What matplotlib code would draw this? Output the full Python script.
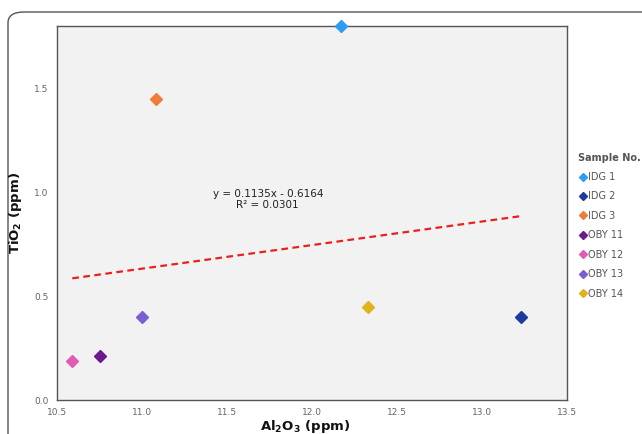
import matplotlib.pyplot as plt
import numpy as np
from matplotlib.patches import FancyBboxPatch

# === data ===
samples = ["IDG 1", "IDG 2", "IDG 3", "OBY 11", "OBY 12", "OBY 13", "OBY 14"]
al2o3 = [12.17, 13.23, 11.08, 10.75, 10.59, 11.00, 12.33]
tio2 = [1.80, 0.40, 1.45, 0.21, 0.19, 0.40, 0.45]
colors = ["#2e9cf0", "#1f3a9e", "#ee7d3b", "#6a1a8c", "#e25bb7", "#7a5fd0", "#e0b21c"]
slope, intercept = 0.1135, -0.6164

fig = plt.figure(figsize=(6.42, 4.34), dpi=100)

# rounded frame around the chart (right / bottom edges run off the picture)
frame = FancyBboxPatch((8 / 642, -0.1), 1.2, (434 - 12) / 434 + 0.1,
                       boxstyle="round,pad=0,rounding_size=0.025",
                       transform=fig.transFigure, facecolor="none",
                       edgecolor="#555555", linewidth=1.0, zorder=-1)
fig.patches.append(frame)

ax = fig.add_axes([57 / 642, 34 / 434, 510 / 642, 374 / 434])
ax.set_facecolor("#f2f2f2")

for s, x, y, c in zip(samples, al2o3, tio2, colors):
    ax.plot(x, y, marker="D", markersize=6, color=c, linestyle="none",
            label=s, clip_on=False, zorder=3)

# linear trend line
xt = np.array([min(al2o3), max(al2o3)])
ax.plot(xt, slope * xt + intercept, color="#e8211c", linestyle=(0, (3, 2)),
        linewidth=1.6, zorder=2)
ax.text(11.74, 0.965, "y = 0.1135x - 0.6164\nR² = 0.0301", ha="center",
        va="center", fontsize=7.5, color="#222222", linespacing=1.2)

ax.set_xlim(10.5, 13.5)
ax.set_ylim(0, 1.8)
ax.set_xticks([10.5, 11.0, 11.5, 12.0, 12.5, 13.0, 13.5])
ax.set_yticks([0.0, 0.5, 1.0, 1.5])
ax.tick_params(length=0, labelsize=6.5, labelcolor="#666666", pad=6)
for sp in ax.spines.values():
    sp.set_color("#555555")
    sp.set_linewidth(1.0)

ax.set_xlabel(r"$\mathbf{Al_2O_3}$ (ppm)", fontsize=9.5, fontweight="bold",
              color="#111111")
ax.set_ylabel(r"$\mathbf{TiO_2}$ (ppm)", fontsize=9.5, fontweight="bold",
              color="#111111")
ax.xaxis.set_label_coords((305 - 57) / 510, -18 / 374)
ax.yaxis.set_label_coords(-33 / 510, 0.5)

leg = ax.legend(loc="upper left", bbox_to_anchor=(1.005, 0.685), frameon=False,
                title="Sample No.", fontsize=7, title_fontsize=7,
                handletextpad=0.0, handlelength=1.0, labelspacing=0.97,
                markerscale=0.75, alignment="left")
leg.get_title().set_fontweight("bold")
leg.get_title().set_color("#555555")
for t in leg.get_texts():
    t.set_color("#555555")

fig.savefig("out.png", dpi=100)
